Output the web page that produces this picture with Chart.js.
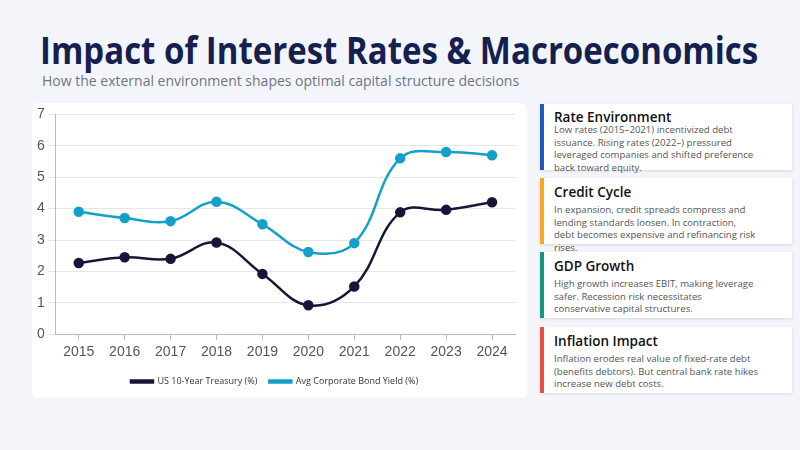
<!DOCTYPE html>
<html>
<head>
<meta charset="utf-8">
<script src="https://cdn.jsdelivr.net/npm/chart.js@4"></script>
<style>
  body { margin: 0; width: 800px; height: 450px; background: #f3f5fb; font-family: "Open Sans", sans-serif; position: relative; overflow: hidden; }
  h1 { position: absolute; left: 40px; top: 28px; margin: 0; font-size: 37px; font-weight: 700; color: #16204f; white-space: nowrap; transform-origin: 0 0; line-height: 44px; }
  .sub { position: absolute; left: 42px; top: 71px; font-size: 14px; color: #6b7585; }
  .chartbox { position: absolute; left: 32px; top: 103px; width: 495px; height: 295px; background: #fff; border-radius: 6px; }
  .card { position: absolute; left: 540px; width: 252px; background: #fff; border-left: 4px solid; box-shadow: 0 1px 3px rgba(0,0,0,0.12); box-sizing: border-box; padding: 5px 8px 0 10px; }
  .card b { display: block; font-size: 13.5px; color: #111; font-weight: 600; }
  .card p { margin: 3px 0 0; font-size: 9.6px; line-height: 12.6px; color: #555; width: 205px; }
</style>
</head>
<body>
<h1 id="t">Impact of Interest Rates &amp; Macroeconomics</h1>
<div class="sub">How the external environment shapes optimal capital structure decisions</div>
<div class="chartbox"><canvas id="c"></canvas></div>

<div class="card" style="top:104px;height:66px;border-color:#1f5bbf;padding-top:6px"><b style="line-height:14px">Rate Environment</b><p style="margin-top:0">Low rates (2015–2021) incentivized debt issuance. Rising rates (2022–) pressured leveraged companies and shifted preference back toward equity.</p></div>
<div class="card" style="top:178px;height:66px;border-color:#f5a623"><b>Credit Cycle</b><p>In expansion, credit spreads compress and lending standards loosen. In contraction, debt becomes expensive and refinancing risk rises.</p></div>
<div class="card" style="top:252px;height:66px;border-color:#15977a"><b>GDP Growth</b><p>High growth increases EBIT, making leverage safer. Recession risk necessitates conservative capital structures.</p></div>
<div class="card" style="top:327px;height:66px;border-color:#e8503f"><b>Inflation Impact</b><p>Inflation erodes real value of fixed-rate debt (benefits debtors). But central bank rate hikes increase new debt costs.</p></div>

<script>
const years = ["2015","2016","2017","2018","2019","2020","2021","2022","2023","2024"];
const treasury = [2.27, 2.45, 2.4, 2.92, 1.92, 0.92, 1.52, 3.88, 3.96, 4.2];
const corporate = [3.9, 3.7, 3.6, 4.22, 3.5, 2.62, 2.9, 5.6, 5.8, 5.7];

// squeeze the title to the reference width
const t = document.getElementById("t");
t.style.transform = "scaleX(" + (718 / t.offsetWidth) + ")";

new Chart(document.getElementById("c"), {
  type: "line",
  data: {
    labels: years,
    datasets: [
      { label: "US 10-Year Treasury (%)", data: treasury, borderColor: "#16163a", backgroundColor: "#16163a", borderWidth: 2.5, pointRadius: 4, tension: 0.4 },
      { label: "Avg Corporate Bond Yield (%)", data: corporate, borderColor: "#14a0c8", backgroundColor: "#14a0c8", borderWidth: 2.5, pointRadius: 4, tension: 0.4 }
    ]
  },
  options: {
    responsive: true, maintainAspectRatio: false, animation: false,
    layout: { padding: { top: 8, right: 12, left: 2, bottom: 2 } },
    plugins: {
      legend: { position: "bottom", labels: { boxWidth: 22, boxHeight: 2, font: { size: 9, family: "Open Sans" }, color: "#333", padding: 12 } }
    },
    scales: {
      x: { offset: true, grid: { display: true, drawOnChartArea: false, drawTicks: true, tickLength: 6, color: "#bbb" }, border: { color: "#bbb" }, ticks: { color: "#555", padding: 4, font: { size: 14, family: "Liberation Sans" } } },
      y: { min: 0, max: 7, ticks: { stepSize: 1, color: "#555", font: { size: 14, family: "Liberation Sans" } }, grid: { color: "#e6e6e6" }, border: { color: "#bbb" } }
    }
  }
});
</script>
</body>
</html>
